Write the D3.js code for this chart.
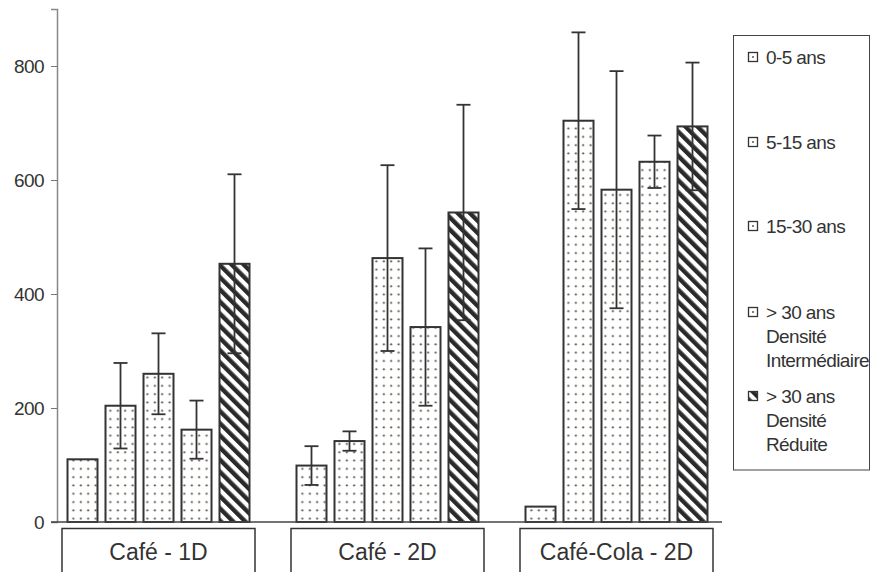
<!DOCTYPE html>
<html>
<head>
<meta charset="utf-8">
<script src="https://cdn.jsdelivr.net/npm/d3@7"></script>
<style>
  body { margin: 0; background: #fff; }
  text { font-family: "Liberation Sans", Arial, sans-serif; fill: #333; }
</style>
</head>
<body>
<div id="chart"></div>
<script>
// data
const groups = ['Café - 1D', 'Café - 2D', 'Café-Cola - 2D'];
const seriesKeys = ['0-5', '5-15', '15-30', '30i', '30r'];
const legendLabels = [
    ['0-5 ans'],
    ['5-15 ans'],
    ['15-30 ans'],
    ['> 30 ans', 'Densité', 'Intermédiaire'],
    ['> 30 ans', 'Densité', 'Réduite']
];
const values = [
    [110, 204, 260, 162, 453],
    [99, 142, 463, 342, 543],
    [27, 704, 583, 632, 694]
];
const errors = [
    [0, 75, 71, 51, 157],
    [34, 17, 163, 138, 189],
    [0, 155, 208, 46, 112]
];
const yTicks = [0, 200, 400, 600, 800];

const svgWidth = 873;
const svgHeight = 572;

const svg = d3.select('#chart')
    .append('svg')
    .attr('width', svgWidth)
    .attr('height', svgHeight);

const defs = svg.append('defs');

const dots = defs.append('pattern')
    .attr('id', 'dots')
    .attr('patternUnits', 'userSpaceOnUse')
    .attr('width', 7.4)
    .attr('height', 8.3);
dots.append('rect').attr('width', 7.4).attr('height', 8.3).attr('fill', '#fff');
dots.append('circle').attr('cx', 3.7).attr('cy', 4).attr('r', 1.1).attr('fill', '#6a5f55');

const hatch = defs.append('pattern')
    .attr('id', 'hatch')
    .attr('patternUnits', 'userSpaceOnUse')
    .attr('width', 8.6)
    .attr('height', 8.6)
    .attr('patternTransform', 'rotate(-45)');
hatch.append('rect').attr('width', 8.6).attr('height', 8.6).attr('fill', '#fff');
hatch.append('rect').attr('width', 4.4).attr('height', 8.6).attr('fill', '#2a2a2a');

const fillFor = k => k === '30r' ? 'url(#hatch)' : 'url(#dots)';

const yScale = d3.scaleLinear()
    .domain([0, 900])
    .range([522, 9]);

const xScale = d3.scaleBand()
    .domain(groups)
    .range([44, 731]);

const innerScale = d3.scaleBand()
    .domain(seriesKeys)
    .range([-91, 91])
    .paddingInner(8 / 38);

// y axis
const yAxis = svg.append('g')
    .attr('transform', 'translate(57, 0)')
    .call(d3.axisLeft(yScale).tickValues(yTicks).tickSize(6).tickPadding(7));
yAxis.select('.domain').attr('stroke', '#888').attr('stroke-width', 1.5);
yAxis.selectAll('.tick line').attr('stroke', '#777');
yAxis.selectAll('.tick text')
    .style('font-size', '19px')
    .style('letter-spacing', '-0.6px')
    .attr('fill', '#333');

// bars
const groupG = svg.selectAll('g.group')
    .data(groups)
    .join('g')
    .attr('class', 'group')
    .attr('transform', g => `translate(${xScale(g) + xScale.bandwidth() / 2}, 0)`);

groupG.selectAll('rect.bar')
    .data((g, gi) => seriesKeys.map((k, i) => ({ k, v: values[gi][i], e: errors[gi][i] })))
    .join('rect')
    .attr('class', 'bar')
    .attr('x', d => innerScale(d.k))
    .attr('y', d => yScale(d.v))
    .attr('width', innerScale.bandwidth())
    .attr('height', d => yScale(0) - yScale(d.v))
    .attr('fill', d => fillFor(d.k))
    .attr('stroke', '#333')
    .attr('stroke-width', 2);

// error bars
const errG = groupG.selectAll('g.err')
    .data((g, gi) => seriesKeys.map((k, i) => ({ k, v: values[gi][i], e: errors[gi][i] })).filter(d => d.e > 0))
    .join('g')
    .attr('class', 'err')
    .attr('stroke', '#333')
    .attr('stroke-width', 1.8);

const cx = d => innerScale(d.k) + innerScale.bandwidth() / 2;
errG.append('line')
    .attr('x1', cx).attr('x2', cx)
    .attr('y1', d => yScale(d.v + d.e))
    .attr('y2', d => yScale(d.v - d.e));
errG.append('line')
    .attr('x1', d => cx(d) - 7).attr('x2', d => cx(d) + 7)
    .attr('y1', d => yScale(d.v + d.e)).attr('y2', d => yScale(d.v + d.e));
errG.append('line')
    .attr('x1', d => cx(d) - 7).attr('x2', d => cx(d) + 7)
    .attr('y1', d => yScale(d.v - d.e)).attr('y2', d => yScale(d.v - d.e));

// baseline
svg.append('line')
    .attr('x1', 51).attr('x2', 722)
    .attr('y1', yScale(0)).attr('y2', yScale(0))
    .attr('stroke', '#444')
    .attr('stroke-width', 1.5);

// category boxes
const catG = svg.selectAll('g.cat')
    .data(groups)
    .join('g')
    .attr('class', 'cat')
    .attr('transform', g => `translate(${xScale(g) + xScale.bandwidth() / 2}, 0)`);
catG.append('rect')
    .attr('x', -96.5)
    .attr('y', 528.5)
    .attr('width', 193)
    .attr('height', 60)
    .attr('fill', '#fff')
    .attr('stroke', '#333')
    .attr('stroke-width', 1.5);
catG.append('text')
    .attr('x', 0)
    .attr('y', 560)
    .attr('text-anchor', 'middle')
    .style('font-size', '23px')
    .text(g => g);

// legend
const legend = svg.append('g');
legend.append('rect')
    .attr('x', 733.5).attr('y', 35.5)
    .attr('width', 136).attr('height', 434.5)
    .attr('fill', '#fff')
    .attr('stroke', '#444')
    .attr('stroke-width', 1);

const legendY = [57, 142, 226, 312, 396];
const legendItem = legend.selectAll('g.item')
    .data(seriesKeys)
    .join('g')
    .attr('class', 'item')
    .attr('transform', (k, i) => `translate(0, ${legendY[i]})`);

legendItem.append('rect')
    .attr('x', 748.5).attr('y', -4.5)
    .attr('width', 9).attr('height', 9)
    .attr('fill', k => k === '30r' ? 'url(#hatch)' : '#fff')
    .attr('stroke', '#333')
    .attr('stroke-width', 1.3);
legendItem.filter(k => k !== '30r').append('circle')
    .attr('cx', 753).attr('cy', 0).attr('r', 1.1)
    .attr('fill', '#6a5f55');

legendItem.selectAll('text')
    .data((k, i) => legendLabels[i])
    .join('text')
    .attr('x', 766)
    .attr('y', (d, j) => j * 24 + 7)
    .style('font-size', '19px')
    .style('letter-spacing', '-0.6px')
    .text(d => d);
</script>
</body>
</html>
